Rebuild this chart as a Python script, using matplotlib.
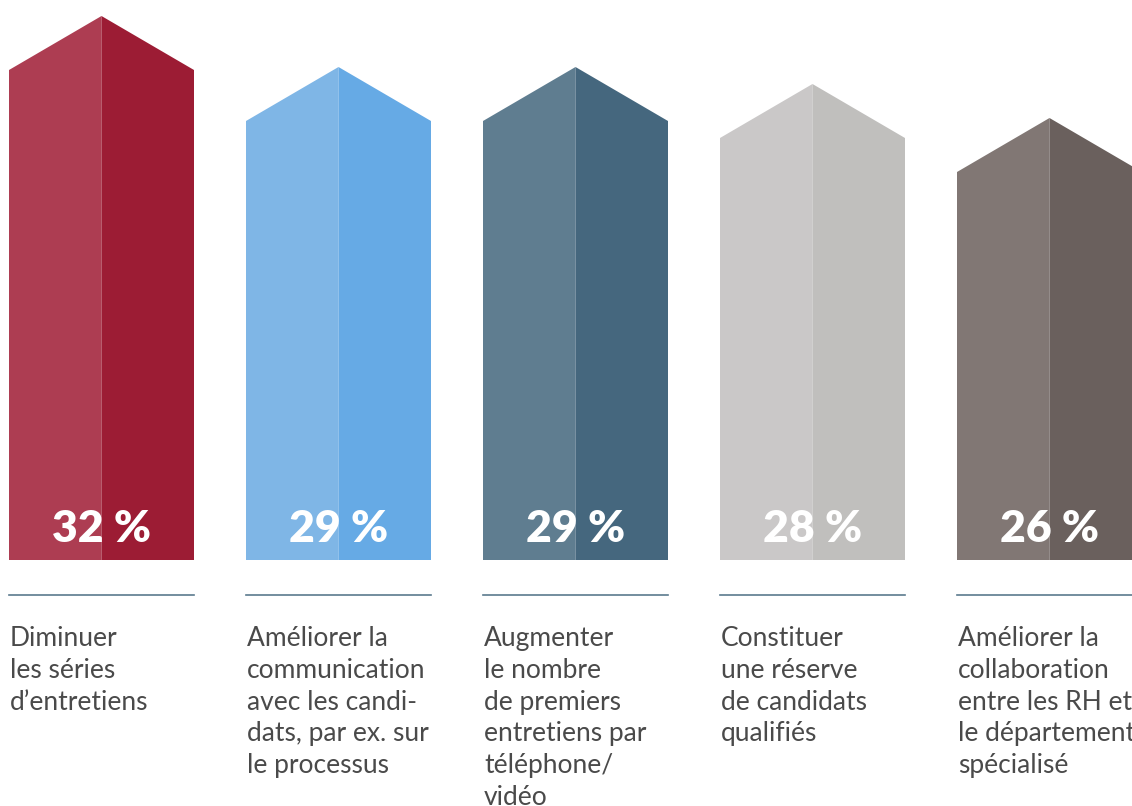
import matplotlib.pyplot as plt
from matplotlib.patches import Polygon

# Données
valeurs = [32, 29, 29, 28, 26]
etiquettes = ['32 %', '29 %', '29 %', '28 %', '26 %']
libelles = [
    "Diminuer\nles séries\nd’entretiens",
    "Améliorer la\ncommunication\navec les candi-\ndats, par ex. sur\nle processus",
    "Augmenter\nle nombre\nde premiers\nentretiens par\ntéléphone/\nvidéo",
    "Constituer\nune réserve\nde candidats\nqualifiés",
    "Améliorer la\ncollaboration\nentre les RH et\nle département\nspécialisé",
]
couleurs_gauche = ['#ad3d52', '#7fb6e6', '#5f7d90', '#cac8c8', '#817774']
couleurs_droite = ['#9c1c34', '#66aae5', '#45677e', '#c0bfbd', '#6a605d']

fig = plt.figure(figsize=(11.32, 8.06), dpi=100)
ax = fig.add_axes([0, (806 - 560) / 806, 1, 560 / 806])
ax.set_xlim(-101.5 / 237, (1132 - 101.5) / 237)
ax.set_ylim(0, 560 / 17)
ax.axis('off')

largeur = 185 / 237
toit = 54 / 17

for i, v in enumerate(valeurs):
    g = i - largeur / 2
    d = i + largeur / 2
    epaule = v - toit
    ax.add_patch(Polygon([(g, 0), (i, 0), (i, v), (g, epaule)],
                         closed=True, facecolor=couleurs_gauche[i], edgecolor='none'))
    ax.add_patch(Polygon([(i, 0), (d, 0), (d, epaule), (i, v)],
                         closed=True, facecolor=couleurs_droite[i], edgecolor='none'))
    ax.text(i, 18 / 17, etiquettes[i], ha='center', va='baseline', color='white',
            fontsize=32, fontweight='heavy', family='Lato')
    ax.plot([g, d], [-35 / 17, -35 / 17], color='#5b7a8e', lw=1.2, clip_on=False)
    ax.text(g + 1 / 237, -66 / 17, libelles[i], ha='left', va='top', color='#4a4a4a',
            fontsize=19, family='Lato', linespacing=1.34, clip_on=False)

fig.savefig('out.png', dpi=100)
